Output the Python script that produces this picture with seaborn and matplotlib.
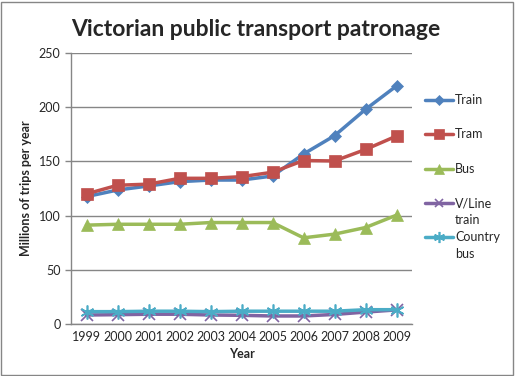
import matplotlib
matplotlib.use("Agg")
import matplotlib.pyplot as plt
import seaborn as sns
import pandas as pd
from matplotlib.patches import Rectangle
from matplotlib.lines import Line2D

years = ["1999", "2000", "2001", "2002", "2003", "2004", "2005", "2006", "2007", "2008", "2009"]
train = [117.5, 123.6, 127.3, 131.3, 132.8, 132.8, 136.5, 156.8, 173.7, 198, 219.6]
tram = [120, 128, 129, 134.4, 134.4, 135.9, 140, 150.8, 150.4, 161, 173.4]
bus = [91.2, 92, 92, 92, 93.6, 93.6, 93.6, 79.5, 82.9, 89, 100.4]
vline = [8.3, 8.6, 9, 9, 8.3, 8, 7.4, 7.4, 8.8, 11, 13]
country_bus = [11.4, 11.4, 11.8, 11.8, 11.4, 11.8, 11.8, 11.8, 11.8, 13.2, 13.2]

series_names = ["Train", "Tram", "Bus", "V/Line\ntrain", "Country\nbus"]
series_vals = [train, tram, bus, vline, country_bus]
colors = ["#4F81BD", "#C0504D", "#9BBB59", "#8064A2", "#4BACC6"]
markers = ["D", "s", "^", "x", (6, 2, 0)]
msizes = [6, 9, 9, 8, 10]

rows = []
for name, vals in zip(series_names, series_vals):
    for i, v in enumerate(vals):
        rows.append({"series": name, "pos": i, "value": v})
df = pd.DataFrame(rows)

sns.set_style("white")
plt.rcParams["font.family"] = ["Lato", "DejaVu Sans"]

fig = plt.figure(figsize=(5.15, 3.76), dpi=100)
ax = fig.add_axes([71 / 515, 1 - 324 / 376, (412 - 71) / 515, (324 - 53) / 376])

for name, col, mk, ms in zip(series_names, colors, markers, msizes):
    sub = df[df["series"] == name]
    sns.lineplot(data=sub, x="pos", y="value", ax=ax, color=col, marker=mk,
                 markersize=ms, linewidth=2.5, legend=False,
                 markeredgecolor=col, markeredgewidth=1.2 if mk in ("x", (6, 2, 0)) else 0.5)

ax.set_xlim(-0.5, len(years) - 0.5)
ax.set_ylim(0, 250)
ax.set_yticks(range(0, 251, 50))
ax.set_xticks(range(len(years)))
ax.set_xticklabels(years, fontsize=9)
ax.set_xticks([i - 0.5 for i in range(len(years) + 1)], minor=True)
ax.tick_params(axis="x", which="major", length=0, pad=5)
ax.tick_params(axis="x", which="minor", length=4, color="#868686", width=1)
ax.tick_params(axis="y", length=4, color="#868686", width=1, labelsize=9, left=True)
ax.grid(axis="y", color="#868686", linewidth=1)
ax.set_axisbelow(True)
for s in ["top", "right"]:
    ax.spines[s].set_visible(False)
for s in ["left", "bottom"]:
    ax.spines[s].set_color("#868686")
    ax.spines[s].set_linewidth(1)

ax.set_xlabel("Year", fontsize=9, fontweight="bold", labelpad=4)
ax.set_ylabel("Millions of trips per year", fontsize=9, fontweight="bold", labelpad=5)
fig.text(256 / 515, 1 - 30 / 376, "Victorian public transport patronage", ha="center", va="center",
         fontsize=16.5, fontweight="bold")

# legend drawn manually so the handle aligns with the first line of wrapped labels
leg_y = [100, 134, 169, 203, 237]
for name, col, mk, ms, yy in zip(series_names, colors, markers, msizes, leg_y):
    fy = 1 - yy / 376
    fig.add_artist(Line2D([425 / 515, 453 / 515], [fy, fy], transform=fig.transFigure,
                          color=col, linewidth=2.5))
    fig.add_artist(Line2D([439 / 515], [fy], transform=fig.transFigure, color=col, marker=mk,
                          markersize=ms * 0.8, markeredgecolor=col,
                          markeredgewidth=1.2 if mk in ("x", (6, 2, 0)) else 0.5, linestyle="none"))
    fig.text(455 / 515, fy + 6 / 376, name, ha="left", va="top", fontsize=9, linespacing=1.5)

fig.patches.append(Rectangle((1 / 515, 1 / 376), 1 - 3 / 515, 1 - 3 / 376, transform=fig.transFigure,
                             fill=False, edgecolor="#868686", linewidth=1))
fig.savefig("out.png", dpi=100)
